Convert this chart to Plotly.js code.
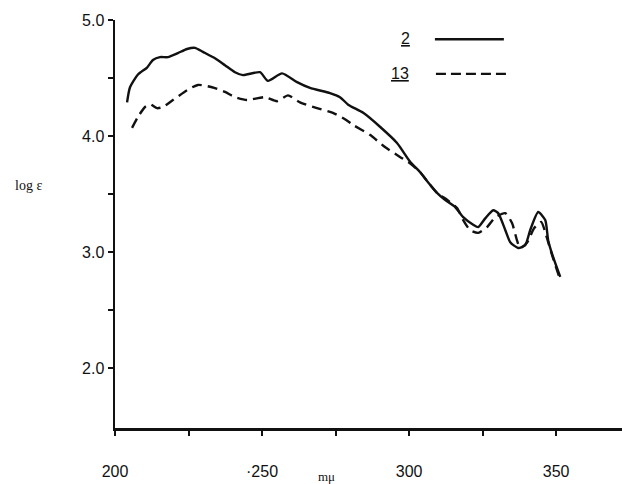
<!DOCTYPE html>
<html>
<head>
<meta charset="utf-8">
<script src="https://cdn.plot.ly/plotly-3.0.1.min.js"></script>
<style>html,body{margin:0;padding:0;background:#fff;}#chart{width:622px;height:484px;}</style>
</head>
<body>
<div id="chart"></div>
<script>
// Compound 2 (solid)
const wl2 = [204.1,205.1,207.8,210.9,212.9,215.3,218.0,221.4,224.5,227.2,229.9,234.0,237.4,240.8,243.5,249.3,252.0,256.8,261.9,266.3,273.1,276.5,279.3,284.4,290.1,295.9,300.3,303.7,306.5,309.5,312.2,315.6,318.4,321.8,323.5,325.9,328.6,330.3,332.7,334.4,337.1,339.5,341.2,343.9,346.3,347.3,349.0,351.4];
const logE2 = [4.29,4.42,4.53,4.59,4.655,4.68,4.68,4.715,4.75,4.76,4.725,4.67,4.61,4.55,4.525,4.55,4.475,4.54,4.465,4.415,4.37,4.335,4.27,4.2,4.08,3.94,3.78,3.69,3.6,3.51,3.45,3.39,3.3,3.235,3.215,3.29,3.36,3.335,3.19,3.085,3.035,3.06,3.19,3.345,3.275,3.1,2.955,2.785];
// Compound 13 (dashed)
const wl13 = [205.8,207.8,210.2,211.9,214.3,216.3,219.7,224.5,228.2,233.0,237.4,240.8,244.9,251.0,255.1,258.8,262.9,268.7,274.1,278.2,281.0,286.7,291.8,296.9,300.3,303.7,306.5,309.5,312.9,316.3,318.4,320.7,323.5,326.5,329.3,332.7,335.0,336.7,337.8,340.1,342.5,344.9,346.6,348.6,351.4];
const logE13 = [4.07,4.165,4.25,4.275,4.24,4.25,4.31,4.395,4.44,4.42,4.38,4.335,4.31,4.335,4.3,4.35,4.29,4.24,4.2,4.145,4.095,4.01,3.905,3.82,3.765,3.69,3.6,3.51,3.45,3.38,3.275,3.19,3.165,3.215,3.3,3.335,3.25,3.1,3.035,3.08,3.205,3.26,3.145,2.975,2.76];

const xTickVals = [200,225,250,275,300,325,350];
const xTickText = ['200','','·250','','300','','350'];
const yTickVals = [2,2.5,3,3.5,4,4.5,5];
const yTickText = ['2.0','','3.0','','4.0','','5.0'];
const seriesNames = ['2','13'];

const ink = '#111';
const tickFont = {family:'Liberation Sans, DejaVu Sans, sans-serif', size:16, color:ink};

const traces = [
  {x: wl2, y: logE2, mode:'lines', name: seriesNames[0],
   line:{color:ink, width:2.4, shape:'spline', smoothing:0.6}},
  {x: wl13, y: logE13, mode:'lines', name: seriesNames[1],
   line:{color:ink, width:2.4, dash:'10px,6px', shape:'spline', smoothing:0.6}}
];

const layout = {
  width:622, height:484,
  margin:{l:115, r:0, t:20, b:56},
  paper_bgcolor:'#fff', plot_bgcolor:'#fff',
  showlegend:false,
  xaxis:{range:[200,372.4], showgrid:false, zeroline:false, showline:true, linewidth:2.5, linecolor:ink,
         tickmode:'array', tickvals:xTickVals, ticktext:xTickText, ticks:'outside', ticklen:5, tickwidth:2, tickcolor:ink,
         tickfont:tickFont, ticklabelstandoff:22},
  yaxis:{range:[1.483,5.0], showgrid:false, zeroline:false, showline:true, linewidth:2.5, linecolor:ink,
         tickmode:'array', tickvals:yTickVals, ticktext:yTickText, ticks:'outside', ticklen:5, tickwidth:2, tickcolor:ink,
         tickfont:tickFont},
  annotations:[
    {xref:'paper', yref:'paper', x:-0.17, y:0.595, xanchor:'center', yanchor:'middle', showarrow:false,
     text:'log ε', font:{family:'Liberation Serif, DejaVu Serif, serif', size:14, color:ink}},
    {xref:'paper', yref:'paper', x:0.418, y:-0.118, xanchor:'center', yanchor:'middle', showarrow:false,
     text:'mμ', font:{family:'Liberation Serif, DejaVu Serif, serif', size:13, color:ink}},
    {xref:'paper', yref:'paper', x:0.572, y:0.955, xanchor:'center', yanchor:'middle', showarrow:false,
     text:'<u>'+seriesNames[0]+'</u>', font:tickFont},
    {xref:'paper', yref:'paper', x:0.562, y:0.868, xanchor:'center', yanchor:'middle', showarrow:false,
     text:'<u>'+seriesNames[1]+'</u>', font:tickFont}
  ],
  shapes:[
    {type:'line', xref:'paper', yref:'paper', x0:0.631, x1:0.767, y0:0.953, y1:0.953, line:{color:ink, width:2.4}},
    {type:'line', xref:'paper', yref:'paper', x0:0.633, x1:0.779, y0:0.868, y1:0.868, line:{color:ink, width:2.4, dash:'10px,5px'}}
  ]
};

Plotly.newPlot('chart', traces, layout, {staticPlot:true, displayModeBar:false});
</script>
</body>
</html>
